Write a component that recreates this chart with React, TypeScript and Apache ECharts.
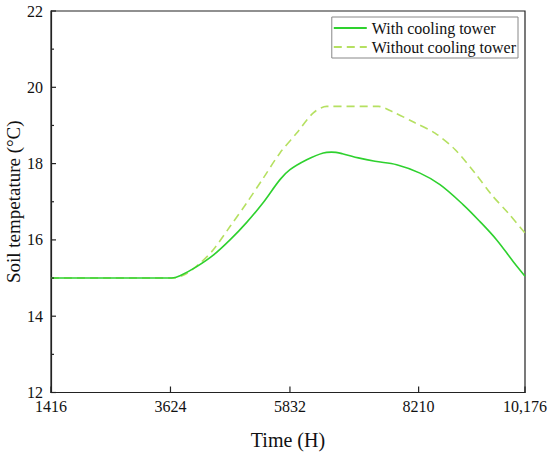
import React, { useEffect, useRef } from "react";
import * as echarts from "echarts";

const xTicks = [1416, 3624, 5832, 8210, 10176];
const yTicks = [12, 13, 14, 15, 16, 17, 18, 19, 20, 21, 22];

const timeWith = [1416, 2500, 3650, 3800, 4109, 4415, 4724, 5033, 5339, 5648, 5833, 6142, 6448, 6600, 6800, 7095, 7404, 7805, 8235, 8605, 9036, 9344, 9653, 9960, 10176];
const tempWith = [15.0, 15.0, 15.0, 15.06, 15.3, 15.6, 16.0, 16.46, 16.98, 17.58, 17.84, 18.1, 18.28, 18.3, 18.26, 18.15, 18.06, 17.97, 17.75, 17.45, 16.92, 16.48, 16.0, 15.43, 15.05];

const timeWithout = [1416, 2500, 3650, 3900, 4170, 4415, 4724, 5033, 5339, 5648, 5957, 6264, 6511, 7465, 7712, 8143, 8513, 8882, 9252, 9560, 9867, 10176];
const tempWithout = [15.0, 15.0, 15.0, 15.1, 15.39, 15.74, 16.35, 16.97, 17.62, 18.28, 18.8, 19.33, 19.5, 19.5, 19.37, 19.07, 18.8, 18.37, 17.75, 17.18, 16.7, 16.18];

const seriesNames = ["With cooling tower", "Without cooling tower"];

const FONT = "Liberation Serif, Times New Roman, serif";

export default function App() {
  const ref = useRef<HTMLDivElement>(null);
  useEffect(() => {
    document.body.style.margin = "0";
    const chart = echarts.init(ref.current!, null, { renderer: "svg" });
    const pairs = (xs: number[], ys: number[]) => xs.map((x, i) => [x, ys[i]]);
    const xMin = xTicks[0];
    const yMin = yTicks[0];
    chart.setOption({
      animation: false,
      grid: {
        left: 51,
        right: 25,
        top: 11,
        bottom: 60.5,
        containLabel: false,
        outerBoundsMode: "none",
        show: true,
        borderColor: "#222",
        borderWidth: 1.2,
      },
      legend: {
        orient: "vertical",
        right: 32,
        top: 17,
        itemWidth: 33,
        itemHeight: 12,
        itemGap: 3,
        padding: [3, 2, 3, 1],
        borderColor: "#888",
        borderWidth: 1,
        borderRadius: 0,
        itemStyle: { opacity: 0 },
        textStyle: { fontFamily: FONT, fontSize: 16, color: "#111" },
        data: seriesNames,
      },
      xAxis: {
        type: "value",
        min: 1416,
        max: 10176,
        name: "Time (H)",
        nameLocation: "middle",
        nameGap: 37,
        nameMoveOverlap: false,
        nameTextStyle: { fontFamily: FONT, fontSize: 20, color: "#111" },
        axisLine: { show: true, lineStyle: { color: "#222", width: 1.2 } },
        axisTick: { show: false },
        axisLabel: {
          customValues: xTicks,
          fontFamily: FONT,
          fontSize: 16,
          color: "#111",
          margin: 6,
          formatter: (v: number) => (v >= 10000 ? v.toLocaleString("en-US") : String(v)),
        },
        splitLine: { show: false },
      },
      yAxis: {
        type: "value",
        min: 12,
        max: 22,
        interval: 1,
        name: "Soil tempetature (°C)",
        nameLocation: "middle",
        nameGap: 28,
        nameMoveOverlap: false,
        nameTextStyle: { fontFamily: FONT, fontSize: 19, color: "#111" },
        axisLine: { show: true, lineStyle: { color: "#222", width: 1.2 } },
        axisTick: { show: false },
        axisLabel: {
          fontFamily: FONT,
          fontSize: 16,
          color: "#111",
          margin: 8,
          formatter: (v: number) => (v % 2 === 0 ? String(v) : ""),
        },
        splitLine: { show: false },
      },
      series: [
        {
          name: seriesNames[0],
          type: "line",
          data: pairs(timeWith, tempWith),
          symbol: "none",
          smooth: 0.35,
          lineStyle: { color: "#2ed12e", width: 1.6 },
          itemStyle: { color: "#2ed12e" },
          z: 3,
        },
        {
          name: seriesNames[1],
          type: "line",
          data: pairs(timeWithout, tempWithout),
          symbol: "none",
          smooth: 0.3,
          lineStyle: { color: "#b5e061", width: 1.6, type: [8, 5] },
          itemStyle: { color: "#b5e061" },
          z: 2,
        },
        {
          type: "custom",
          silent: true,
          clip: false,
          z: 5,
          data: xTicks.map((v) => [v, yMin]),
          renderItem: (_p: any, api: any) => {
            const p = api.coord([api.value(0), api.value(1)]);
            return {
              type: "line",
              shape: { x1: p[0], y1: p[1], x2: p[0], y2: p[1] - 6 },
              style: { stroke: "#222", lineWidth: 1.2 },
            };
          },
        },
        {
          type: "custom",
          silent: true,
          clip: false,
          z: 5,
          data: yTicks.map((v) => [xMin, v]),
          renderItem: (_p: any, api: any) => {
            const v = api.value(1);
            const p = api.coord([api.value(0), v]);
            const len = v % 2 === 0 ? 5 : 3;
            return {
              type: "line",
              shape: { x1: p[0], y1: p[1], x2: p[0] + len, y2: p[1] },
              style: { stroke: "#222", lineWidth: 1.2 },
            };
          },
        },
      ],
    });
    return () => chart.dispose();
  }, []);
  return <div ref={ref} style={{ width: 550, height: 453 }} />;
}
